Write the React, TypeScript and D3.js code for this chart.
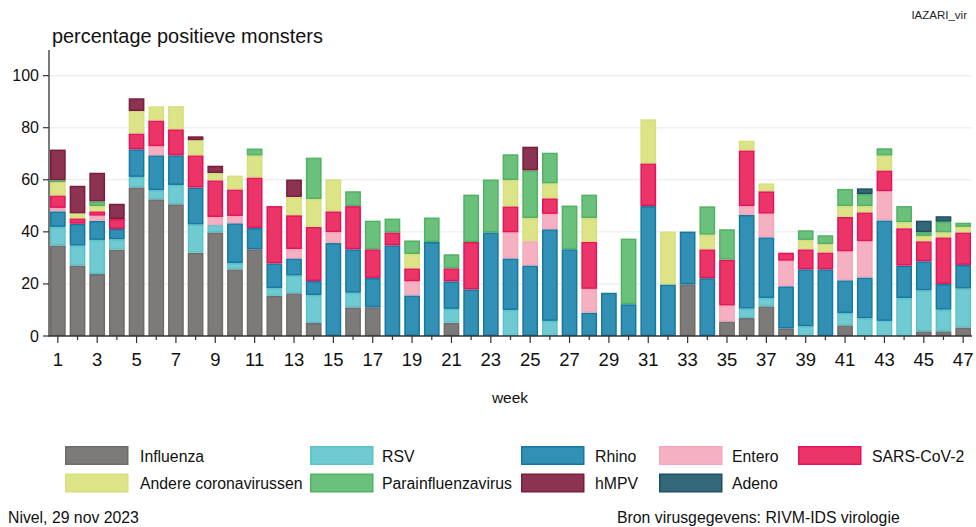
import React from "react";
import * as d3 from "d3";

const weeks = d3.range(1, 48).map(String);

const influenza = [34.8,27.1,23.8,33.2,57.1,52.5,50.6,32.0,39.8,25.6,33.3,15.4,16.4,5.0,0,11.0,11.0,0,0,0,5.1,0,0,0,0,0,0,0,0,0,0,0,19.8,0,5.6,6.9,11.4,2.9,0,0,4.1,0,0,0,1.8,1.8,3.3];
const rsv = [7.1,7.6,13.1,3.9,4.0,3.5,7.4,10.8,2.8,2.4,0,3.0,6.8,10.7,0,5.6,0,0,0,0,5.3,0,0,10.0,0,5.8,0,0,0,0,0,0,0,0,0,3.6,3.2,0,3.7,0,4.7,6.8,5.8,14.6,15.7,8.3,14.9];
const rhino = [6.0,8.4,7.3,4.0,10.6,13.4,11.4,14.2,0,15.3,8.2,9.5,6.6,5.4,35.7,16.7,11.3,34.8,15.6,36.1,10.6,17.9,39.8,19.8,27.1,35.2,33.3,9.0,16.6,12.2,49.9,19.8,20.3,22.2,0,36.0,23.3,16.2,21.9,25.6,12.6,15.7,38.6,12.4,11.2,9.9,9.1];
const entero = [1.3,0,2.0,0,0,3.5,0,0,3.1,2.8,0,0,3.6,0,4.2,0,0,0,5.4,0,0,0,0,10.0,9.3,5.9,0,9.1,0,0,0,0,0,0,6.1,3.4,9.1,9.8,0,0,11.1,13.9,11.2,0,0,0,0];
const sars = [4.8,2.1,1.7,3.8,6.1,9.9,10.0,12.4,14.1,10.2,19.4,22.0,13.0,20.8,8.0,16.6,11.0,5.0,5.0,0,5.0,18.2,0,10.0,0,6.0,0,18.1,0,0,16.4,0,0,11.1,17.6,21.4,8.6,3.1,7.7,6.5,13.2,11.1,8.0,14.4,7.7,17.9,12.5];
const andere = [5.2,1.9,2.0,0,8.6,5.4,8.9,5.8,2.8,5.3,8.4,0,7.0,10.7,12.3,0,0,0,5.5,0,0,0,0,10.1,8.9,5.7,0,9.1,0,0,16.9,20.3,0,5.6,0,3.7,3.0,0,3.6,3.2,4.2,2.4,5.7,2.3,2.0,1.9,2.1];
const para = [0.6,0,1.8,0,0,0,0,0,0,0,2.7,0,0,15.9,0,5.7,11.0,5.3,5.2,9.4,5.4,18.2,20.3,9.9,18.3,11.8,16.8,9.0,0,25.2,0,0,0,10.9,11.7,0,0,0,3.7,3.4,6.6,4.6,2.8,6.2,1.5,4.1,1.6];
const hmpv = [11.8,10.6,11.0,5.9,4.9,0,0,1.5,2.8,0,0,0,6.7,0,0,0,0,0,0,0,0,0,0,0,9.1,0,0,0,0,0,0,0,0,0,0,0,0,0,0,0,0,0,0,0,0,0,0];
const adeno = [0,0,0,0,0,0,0,0,0,0,0,0,0,0,0,0,0,0,0,0,0,0,0,0,0,0,0,0,0,0,0,0,0,0,0,0,0,0,0,0,0,2.2,0,0,4.4,2.1,0];

const seriesNames = ["Influenza","RSV","Rhino","Entero","SARS-CoV-2","Andere coronavirussen","Parainfluenzavirus","hMPV","Adeno"];
const seriesValues = [influenza, rsv, rhino, entero, sars, andere, para, hmpv, adeno];
const fills = ["#7d7b79","#6fcad1","#3190b3","#f5b1c2","#eb3468","#dce487","#6bc17b","#8b3350","#336878"];
const strokes = ["#6e6b69","#5cc2c9","#1478a3","#f3a7ba","#e3145a","#d6df7b","#50b263","#7a1c3c","#1c4f60"];
const yTicks = [0, 20, 40, 60, 80, 100];

const font = "'Liberation Sans', Arial, sans-serif";

export default function App() {
  const W = 976, H = 527;
  const x = d3.scaleBand<string>().domain(weeks).range([48, 973]).paddingInner(0.2).paddingOuter(0.1);
  const y = d3.scaleLinear().domain([0, 110]).range([336, 49.6]);
  const table = weeks.map((w, i) => {
    const row: any = { week: w };
    seriesNames.forEach((n, k) => (row[n] = seriesValues[k][i]));
    return row;
  });
  const stacked = d3.stack<any>().keys(seriesNames)(table);

  const legendCols = [65, 310, 521, 659, 798];
  const legendLabelX = [140, 382, 595, 732, 872];

  return (
    <svg width={W} height={H} style={{ position: "absolute", left: 0, top: 0, background: "#fff" }} fontFamily={font}>
      <text x={967} y={19} fontSize={11.5} textAnchor="end" fill="#222">IAZARI_vir</text>
      <text x={52} y={43} fontSize={19.9} fill="#111">percentage positieve monsters</text>
      {yTicks.filter((t) => t > 0).map((t) => (
        <line key={"g" + t} x1={50} x2={972} y1={y(t)} y2={y(t)} stroke="#edf2f2" strokeWidth={1.5} />
      ))}
      {stacked.map((s, k) => (
        <g key={s.key}>
          {s.map((d, i) => {
            const h = y(d[0]) - y(d[1]);
            if (h <= 0.01) return null;
            return (
              <rect key={i} x={(x(weeks[i]) as number) + 0.75} y={y(d[1]) + 0.75} width={x.bandwidth() - 1.5}
                height={Math.max(h - 1.5, 0.3)} fill={fills[k]} stroke={strokes[k]} strokeWidth={1.5} />
            );
          })}
        </g>
      ))}
      <line x1={49} x2={49} y1={50} y2={336.5} stroke="#222" strokeWidth={1.2} />
      <line x1={48.5} x2={972} y1={336} y2={336} stroke="#333" strokeWidth={1.5} />
      {yTicks.map((t) => (
        <g key={"y" + t}>
          <line x1={43} x2={49} y1={y(t)} y2={y(t)} stroke="#333" strokeWidth={1.2} />
          <text x={39} y={y(t) + 5.5} fontSize={16} textAnchor="end" fill="#111">{t}</text>
        </g>
      ))}
      {weeks.map((w, i) => {
        const cx = (x(w) as number) + x.bandwidth() / 2;
        const major = i % 2 === 0;
        return (
          <g key={"x" + w}>
            <line x1={cx} x2={cx} y1={336} y2={major ? 343 : 340} stroke="#333" strokeWidth={1.2} />
            {major && <text x={cx} y={366} fontSize={18.5} textAnchor="middle" fill="#111">{w}</text>}
          </g>
        );
      })}
      <text x={510} y={403} fontSize={15.5} textAnchor="middle" fill="#111">week</text>
      {seriesNames.map((n, k) => {
        const col = k % 5, row = Math.floor(k / 5);
        const yy = 446 + row * 27.5;
        return (
          <g key={"l" + n}>
            <rect x={legendCols[col] + 0.75} y={yy + 0.75} width={62} height={17.5} fill={fills[k]} stroke={strokes[k]} strokeWidth={1.5} />
            <text x={legendLabelX[col]} y={yy + 15.5} fontSize={15.8} fill="#111">{n}</text>
          </g>
        );
      })}
      <text x={8} y={523} fontSize={15.8} fill="#111">Nivel, 29 nov 2023</text>
      <text x={617} y={523} fontSize={15.8} fill="#111">Bron virusgegevens: RIVM-IDS virologie</text>
    </svg>
  );
}
